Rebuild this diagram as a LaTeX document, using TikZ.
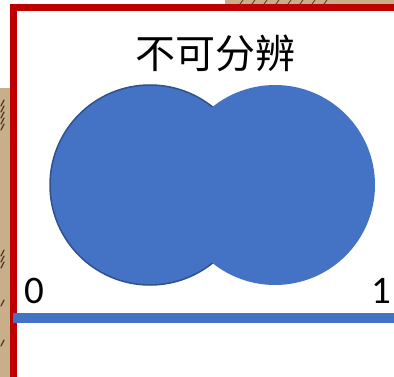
\documentclass[tikz,border=0pt]{standalone}
\usepackage{fontspec}
\setmainfont{Carlito}
\newfontfamily\cjk{Noto Sans CJK SC}
\definecolor{accblue}{HTML}{4472C4}
\definecolor{accdark}{HTML}{2F528F}
\definecolor{framered}{HTML}{C00000}
\definecolor{wood}{HTML}{C9AE8A}
\definecolor{woodline}{HTML}{4A3A2A}
\tikzset{
  disc/.style={circle, fill=accblue, minimum size=200pt, inner sep=0pt},
  bluebar/.style={draw=accblue, line width=10pt},
  tick/.style={font=\fontsize{39}{39}\selectfont, inner sep=0pt},
  stripe/.style={draw=woodline, line width=1.2pt, line cap=round}
}
\begin{document}
\begin{tikzpicture}[x=1pt,y=-1pt]
\useasboundingbox (0,0) rectangle (394,377);
\clip (0,0) rectangle (394,377);
\fill[white] (0,0) rectangle (394,377);
% photo strips behind the slide
\fill[wood] (0,88) rectangle (10,377);
\fill[wood] (225,0) rectangle (394,4);
\foreach \y in {100,106,112,118,124,250,256,262,300,340}
  \draw[stripe] (1,\y+6) -- (4,\y);
\foreach \x in {240,252,264,276,288,300,312,324}
  \draw[stripe, line width=0.8pt] (\x,4) -- (\x+3,0);
% red frame
\draw[framered, line width=7pt] (13.5,7.5) rectangle (400,380.5);
% circles
\node[disc, draw=accdark, line width=1.5pt] (L) at (150,185) {};
\node[disc] (R) at (275,185) {};
% title
\node[font=\cjk\fontsize{40}{40}\selectfont, inner sep=0pt] (T) at (215,53) {不可分辨};
% axis
\coordinate (a) at (13,318);
\coordinate (b) at (394,318);
\draw[bluebar] (a) -- (b);
\node[tick, anchor=base west] (zero) at (24,303) {0};
\node[tick, anchor=base east] (one) at (391,303) {1};
\end{tikzpicture}
\end{document}
